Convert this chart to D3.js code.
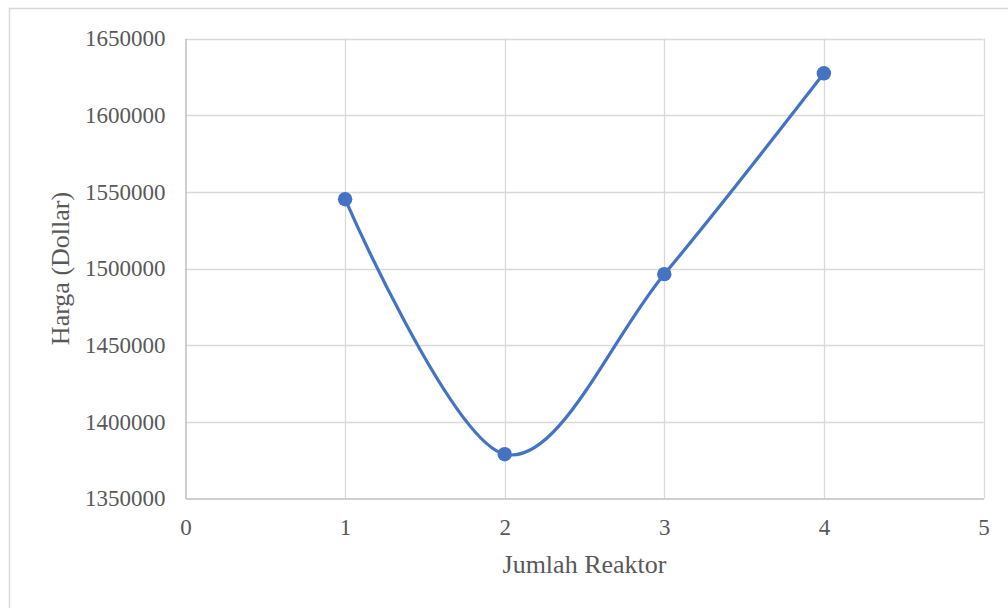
<!DOCTYPE html>
<html>
<head>
<meta charset="utf-8">
<script src="https://cdn.jsdelivr.net/npm/d3@7"></script>
<style>
  html, body { margin: 0; padding: 0; background: #ffffff; }
  svg { display: block; }
</style>
</head>
<body>
<svg id="chart" width="1008" height="608"></svg>
<script>
// Number of reactors vs. total cost
const reaktor = [1, 2, 3, 4];
const harga = [1545200, 1378900, 1496300, 1627300];
const xTicks = [0, 1, 2, 3, 4, 5];
const yTicks = [1350000, 1400000, 1450000, 1500000, 1550000, 1600000, 1650000];
const xTitle = "Jumlah Reaktor";
const yTitle = "Harga (Dollar)";

const svg = d3.select("#chart");
const W = 1008, H = 608;
const plot = { left: 185.5, right: 983.5, top: 38.5, bottom: 498.5 };
const font = "'Liberation Serif', 'Times New Roman', serif";
const textColor = "#595959";

// chart area frame
svg.append("path")
  .attr("d", `M9.5,${H + 2} V8.5 H${W + 2}`)
  .attr("fill", "none")
  .attr("stroke", "#d9d9d9")
  .attr("stroke-width", 1.5);

const x = d3.scaleLinear().domain([0, 5]).range([plot.left, plot.right]);
const y = d3.scaleLinear().domain([1350000, 1650000]).range([plot.bottom, plot.top]);

// gridlines
svg.append("g")
  .selectAll("line.gx")
  .data(xTicks.filter(d => d !== 0))
  .join("line")
  .attr("x1", d => Math.round(x(d)) + 0.5).attr("x2", d => Math.round(x(d)) + 0.5)
  .attr("y1", plot.top).attr("y2", plot.bottom)
  .attr("stroke", "#d9d9d9").attr("stroke-width", 1.3);

svg.append("g")
  .selectAll("line.gy")
  .data(yTicks.filter(d => d !== 1350000))
  .join("line")
  .attr("x1", plot.left).attr("x2", plot.right)
  .attr("y1", d => Math.round(y(d)) + 0.5).attr("y2", d => Math.round(y(d)) + 0.5)
  .attr("stroke", "#d9d9d9").attr("stroke-width", 1.3);

// axes
const xAxis = svg.append("g")
  .attr("transform", `translate(0,${plot.bottom})`)
  .call(d3.axisBottom(x).tickValues(xTicks).tickSize(0).tickPadding(20).tickFormat(d3.format("d")));
const yAxis = svg.append("g")
  .attr("transform", `translate(${plot.left},0)`)
  .call(d3.axisLeft(y).tickValues(yTicks).tickSize(0).tickPadding(20).tickFormat(d3.format("d")));

[xAxis, yAxis].forEach(g => {
  g.select(".domain").attr("stroke", "#bfbfbf").attr("stroke-width", 1.5);
  g.selectAll("text")
    .attr("fill", textColor)
    .style("font-family", font)
    .style("font-size", "23px");
});

// axis titles
svg.append("text")
  .attr("x", (plot.left + plot.right) / 2)
  .attr("y", 573)
  .attr("text-anchor", "middle")
  .attr("fill", textColor)
  .style("font-family", font)
  .style("font-size", "26px")
  .text(xTitle);

svg.append("text")
  .attr("transform", `translate(69,${(plot.top + plot.bottom) / 2}) rotate(-90)`)
  .attr("text-anchor", "middle")
  .attr("fill", textColor)
  .style("font-family", font)
  .style("font-size", "26px")
  .text(yTitle);

// smoothed series line
const pts = reaktor.map((r, i) => [r, harga[i]]);
const line = d3.line()
  .x(d => x(d[0]))
  .y(d => y(d[1]))
  .curve(d3.curveCardinal.tension(0));

svg.append("path")
  .datum(pts)
  .attr("d", line)
  .attr("fill", "none")
  .attr("stroke", "#4472c4")
  .attr("stroke-width", 3.2)
  .attr("stroke-linejoin", "round");

svg.append("g")
  .selectAll("circle")
  .data(pts)
  .join("circle")
  .attr("cx", d => x(d[0]))
  .attr("cy", d => y(d[1]))
  .attr("r", 7.2)
  .attr("fill", "#4472c4");
</script>
</body>
</html>
